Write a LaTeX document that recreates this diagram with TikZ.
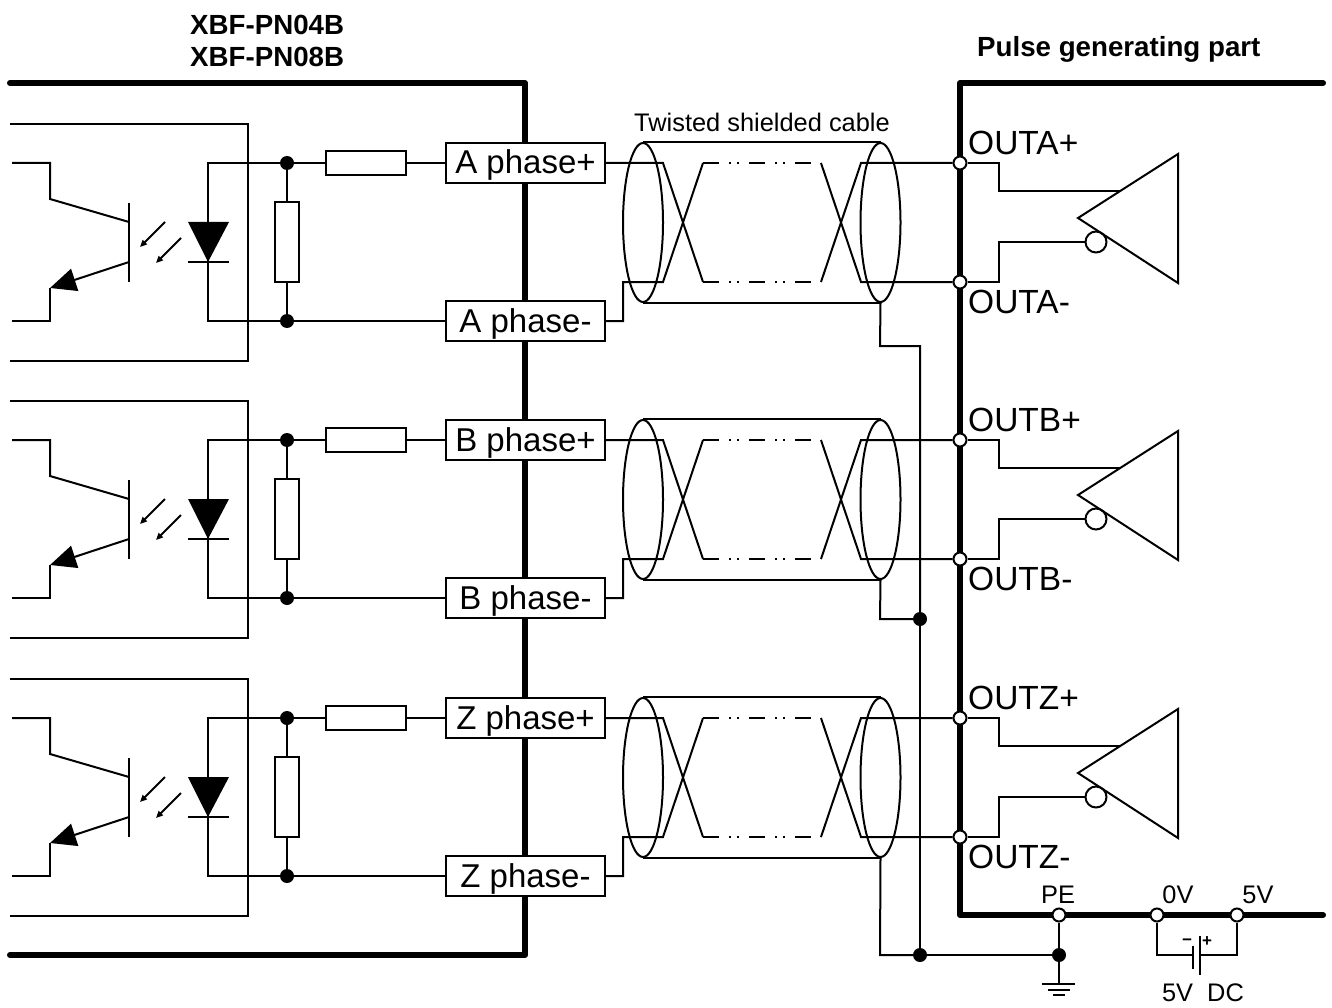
\documentclass[tikz,border=0pt]{standalone}
\usepackage{fontspec}
\setmainfont{Liberation Sans}
\usetikzlibrary{arrows.meta,shapes.geometric}
\tikzset{
  wire/.style={line width=2pt},
  dashwire/.style={line width=2pt,dash pattern=on 16pt off 10pt on 2pt off 6pt on 2pt off 10pt},
  rail/.style={line width=6pt,line cap=round,line join=round},
  termbox/.style={draw,fill=white,line width=2pt,inner sep=0pt,minimum width=159pt,minimum height=40pt,text height=24pt,text depth=2pt,font=\fontsize{33}{36}\selectfont},
  resh/.style={draw,fill=white,line width=2pt,inner sep=0pt,minimum width=80pt,minimum height=24pt},
  resv/.style={draw,fill=white,line width=2pt,inner sep=0pt,minimum width=24pt,minimum height=80pt},
  jdot/.style={circle,fill=black,inner sep=0pt,minimum size=14pt},
  opendot/.style={circle,draw,fill=white,line width=2pt,inner sep=0pt,minimum size=13pt},
  invdot/.style={circle,draw,fill=white,line width=2pt,inner sep=0pt,minimum size=21pt},
  shield/.style={ellipse,draw,line width=2pt,inner sep=0pt,minimum width=40pt,minimum height=159pt},
  outlabel/.style={anchor=west,inner sep=0pt,font=\fontsize{33.5}{36}\selectfont},
  smalllabel/.style={inner sep=0pt,font=\fontsize{25.4}{28}\selectfont},
  boldlabel/.style={anchor=west,inner sep=0pt,font=\fontsize{27.7}{30}\selectfont\bfseries},
  polarity/.style={inner sep=0pt,font=\fontsize{17}{17}\selectfont\bfseries},
  bigtip/.style={-{Triangle[length=26pt,width=23pt]}},
  lighttip/.style={-{Triangle[length=7pt,width=6pt]}}
}
\begin{document}
\begin{tikzpicture}[x=1pt,y=-1pt]
  \useasboundingbox (0,0) rectangle (1332,1008);

  \node [boldlabel] (typeA) at (190,25) {XBF-PN04B};
  \node [boldlabel] (typeB) at (190,57) {XBF-PN08B};
  \node [boldlabel] (pulse) at (977,49) {Pulse generating part};
  \node [smalllabel] (cable) at (762,122) {Twisted shielded cable};

  \draw [rail] (10,83) -- (525,83) -- (525,955) -- (10,955);
  \draw [rail] (1323,83) -- (960,83) -- (960,915) -- (1323,915);

  % A phase
  \draw [wire] (10,124) -- (248,124) -- (248,361) -- (10,361);
  \draw [wire] (12,163) -- (50,163) -- (50,199) -- (129,222);
  \draw [wire] (129,203) -- (129,282);
  \draw [wire,bigtip] (129,262) -- (50,288);
  \draw [wire] (50,288) -- (50,321) -- (12,321);
  \draw [wire,lighttip] (165,222) -- (140,247);
  \draw [wire,lighttip] (181,238) -- (156,263);
  \fill (188,222) -- (229,222) -- (208,262) -- cycle;
  \draw [wire] (188,262) -- (229,262);
  \node [jdot] (aJp) at (287,163) {};
  \node [jdot] (aJn) at (287,321) {};
  \node [resh] (aRs) at (366,163) {};
  \node [resv] (aRp) at (287,242) {};
  \node [termbox] (aPos) at (525.5,163) {A phase+};
  \node [termbox] (aNeg) at (525.5,321) {A phase-};
  \node [shield] (aSL) at (643,222.5) {};
  \node [shield] (aSR) at (880.5,222.5) {};
  \node [opendot] (aOutP) at (960,163) {};
  \node [opendot] (aOutN) at (960,282) {};
  \node [outlabel] (aLblP) at (968,143) {OUTA+};
  \node [outlabel] (aLblN) at (968,302) {OUTA-};
  \node [invdot] (aInv) at (1096,242) {};
  \draw [wire] (aJp) -- (208,163) -- (208,321) -- (aJn);
  \draw [wire] (aJp) -- (aRs);
  \draw [wire] (aRs) -- (aPos.west);
  \draw [wire] (aJp) -- (aRp);
  \draw [wire] (aRp) -- (aJn);
  \draw [wire] (aJn) -- (aNeg.west);
  \draw [wire] (aSL.north) -- (aSR.north);
  \draw [wire] (aSL.south) -- (aSR.south);
  \draw [wire] (aPos.east) -- (663,163) -- (703,282);
  \draw [dashwire] (703,282) -- (821,282);
  \draw [wire] (821,282) -- (861,163) -- (aOutP);
  \draw [wire] (aNeg.east) -- (623,321) -- (623,282) -- (663,282) -- (703,163);
  \draw [dashwire] (703,163) -- (821,163);
  \draw [wire] (821,163) -- (861,282) -- (aOutN);
  \draw [wire] (1078,218) -- (1178,154) -- (1178,283) -- cycle;
  \draw [wire] (aOutP) -- (999,163) -- (999,191) -- (1120,191);
  \draw [wire] (aOutN) -- (999,282) -- (999,242) -- (aInv);

  % B phase
  \draw [wire] (10,401) -- (248,401) -- (248,638) -- (10,638);
  \draw [wire] (12,440) -- (50,440) -- (50,476) -- (129,499);
  \draw [wire] (129,480) -- (129,559);
  \draw [wire,bigtip] (129,539) -- (50,565);
  \draw [wire] (50,565) -- (50,598) -- (12,598);
  \draw [wire,lighttip] (165,499) -- (140,524);
  \draw [wire,lighttip] (181,515) -- (156,540);
  \fill (188,499) -- (229,499) -- (208,539) -- cycle;
  \draw [wire] (188,539) -- (229,539);
  \node [jdot] (bJp) at (287,440) {};
  \node [jdot] (bJn) at (287,598) {};
  \node [resh] (bRs) at (366,440) {};
  \node [resv] (bRp) at (287,519) {};
  \node [termbox] (bPos) at (525.5,440) {B phase+};
  \node [termbox] (bNeg) at (525.5,598) {B phase-};
  \node [shield] (bSL) at (643,499.5) {};
  \node [shield] (bSR) at (880.5,499.5) {};
  \node [opendot] (bOutP) at (960,440) {};
  \node [opendot] (bOutN) at (960,559) {};
  \node [outlabel] (bLblP) at (968,420) {OUTB+};
  \node [outlabel] (bLblN) at (968,579) {OUTB-};
  \node [invdot] (bInv) at (1096,519) {};
  \draw [wire] (bJp) -- (208,440) -- (208,598) -- (bJn);
  \draw [wire] (bJp) -- (bRs);
  \draw [wire] (bRs) -- (bPos.west);
  \draw [wire] (bJp) -- (bRp);
  \draw [wire] (bRp) -- (bJn);
  \draw [wire] (bJn) -- (bNeg.west);
  \draw [wire] (bSL.north) -- (bSR.north);
  \draw [wire] (bSL.south) -- (bSR.south);
  \draw [wire] (bPos.east) -- (663,440) -- (703,559);
  \draw [dashwire] (703,559) -- (821,559);
  \draw [wire] (821,559) -- (861,440) -- (bOutP);
  \draw [wire] (bNeg.east) -- (623,598) -- (623,559) -- (663,559) -- (703,440);
  \draw [dashwire] (703,440) -- (821,440);
  \draw [wire] (821,440) -- (861,559) -- (bOutN);
  \draw [wire] (1078,495) -- (1178,431) -- (1178,560) -- cycle;
  \draw [wire] (bOutP) -- (999,440) -- (999,468) -- (1120,468);
  \draw [wire] (bOutN) -- (999,559) -- (999,519) -- (bInv);

  % Z phase
  \draw [wire] (10,679) -- (248,679) -- (248,916) -- (10,916);
  \draw [wire] (12,718) -- (50,718) -- (50,754) -- (129,777);
  \draw [wire] (129,758) -- (129,837);
  \draw [wire,bigtip] (129,817) -- (50,843);
  \draw [wire] (50,843) -- (50,876) -- (12,876);
  \draw [wire,lighttip] (165,777) -- (140,802);
  \draw [wire,lighttip] (181,793) -- (156,818);
  \fill (188,777) -- (229,777) -- (208,817) -- cycle;
  \draw [wire] (188,817) -- (229,817);
  \node [jdot] (zJp) at (287,718) {};
  \node [jdot] (zJn) at (287,876) {};
  \node [resh] (zRs) at (366,718) {};
  \node [resv] (zRp) at (287,797) {};
  \node [termbox] (zPos) at (525.5,718) {Z phase+};
  \node [termbox] (zNeg) at (525.5,876) {Z phase-};
  \node [shield] (zSL) at (643,777.5) {};
  \node [shield] (zSR) at (880.5,777.5) {};
  \node [opendot] (zOutP) at (960,718) {};
  \node [opendot] (zOutN) at (960,837) {};
  \node [outlabel] (zLblP) at (968,698) {OUTZ+};
  \node [outlabel] (zLblN) at (968,857) {OUTZ-};
  \node [invdot] (zInv) at (1096,797) {};
  \draw [wire] (zJp) -- (208,718) -- (208,876) -- (zJn);
  \draw [wire] (zJp) -- (zRs);
  \draw [wire] (zRs) -- (zPos.west);
  \draw [wire] (zJp) -- (zRp);
  \draw [wire] (zRp) -- (zJn);
  \draw [wire] (zJn) -- (zNeg.west);
  \draw [wire] (zSL.north) -- (zSR.north);
  \draw [wire] (zSL.south) -- (zSR.south);
  \draw [wire] (zPos.east) -- (663,718) -- (703,837);
  \draw [dashwire] (703,837) -- (821,837);
  \draw [wire] (821,837) -- (861,718) -- (zOutP);
  \draw [wire] (zNeg.east) -- (623,876) -- (623,837) -- (663,837) -- (703,718);
  \draw [dashwire] (703,718) -- (821,718);
  \draw [wire] (821,718) -- (861,837) -- (zOutN);
  \draw [wire] (1078,773) -- (1178,709) -- (1178,838) -- cycle;
  \draw [wire] (zOutP) -- (999,718) -- (999,746) -- (1120,746);
  \draw [wire] (zOutN) -- (999,837) -- (999,797) -- (zInv);

  % shield and supply
  \node [jdot] (jMid) at (920,619) {};
  \node [jdot] (jLow) at (920,955) {};
  \node [jdot] (jPe) at (1059,955) {};
  \node [opendot] (pe) at (1059,915) {};
  \node [opendot] (zero) at (1157,915) {};
  \node [opendot] (five) at (1237,915) {};
  \node [smalllabel] (peLbl) at (1058,895) {PE};
  \node [smalllabel] (zeroLbl) at (1178,895) {0V};
  \node [smalllabel] (fiveLbl) at (1258,895) {5V};
  \node [smalllabel] (dcLbl) at (1203,993) {5V\ \ DC};
  \node [polarity] (minus) at (1187,942) {−};
  \node [polarity] (plus) at (1207,942) {+};
  \coordinate (gnd) at (1059,984);
  \coordinate (cellN) at (1193,955);
  \coordinate (cellP) at (1200,955);

  \draw [wire] (aSR.south) -- (880,346) -- (920,346) -- (jMid);
  \draw [wire] (bSR.south) -- (880,619) -- (jMid);
  \draw [wire] (zSR.south) -- (880,955) -- (jLow);
  \draw [wire] (jMid) -- (jLow);
  \draw [wire] (jLow) -- (jPe);
  \draw [wire] (pe) -- (jPe);
  \draw [wire] (jPe) -- (gnd);
  \draw [wire] (1042,984) -- (1075,984);
  \draw [wire] (1048,990) -- (1070,990);
  \draw [wire] (1053,995) -- (1065,995);
  \draw [wire] (zero) -- (1157,955) -- (cellN);
  \draw [wire] (five) -- (1237,955) -- (cellP);
  \draw [wire] (1193,946) -- (1193,969);
  \draw [wire] (1200,936) -- (1200,975);
\end{tikzpicture}
\end{document}
